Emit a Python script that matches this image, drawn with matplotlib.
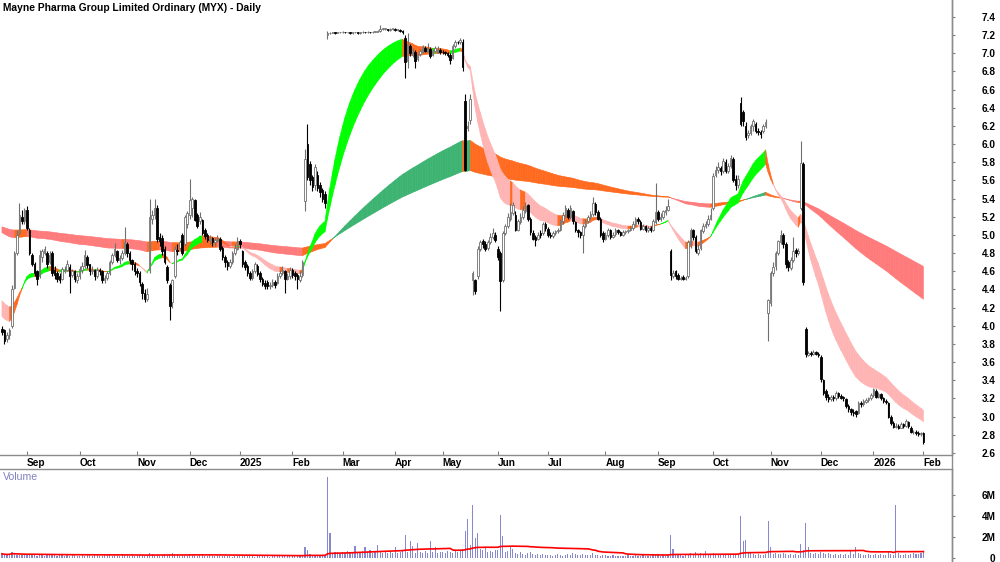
import numpy as np
import pandas as pd
import matplotlib
matplotlib.use("Agg")
import matplotlib.pyplot as plt
from matplotlib.collections import PolyCollection
from matplotlib.lines import Line2D

plt.rcParams['font.family'] = ['Liberation Sans', 'DejaVu Sans']

title = "Mayne Pharma Group Limited Ordinary (MYX) - Daily"

# ---- daily OHLC (AUD), 19 Aug 2024 .. 2 Feb 2026, one row per month ----
open_ = [
 3.97, 3.95, 3.85, 3.90, 4.00, 4.42, 4.80, 5.02, 5.20, 5.15,
 5.28, 5.05, 4.78, 4.68, 4.60, 4.55, 4.76, 4.80, 4.80, 4.70, 4.80, 4.62, 4.58, 4.55, 4.52, 4.60, 4.62, 4.65, 4.56, 4.60, 4.50,
 4.55, 4.62, 4.66, 4.76, 4.68, 4.60, 4.62, 4.55, 4.62, 4.60, 4.50, 4.53, 4.58, 4.70, 4.78, 4.82, 4.72, 4.75, 4.80, 4.90, 4.80, 4.72, 4.68,
 4.60, 4.58, 4.46, 4.36, 4.30, 4.62, 5.18, 5.22, 5.30, 4.98, 4.97, 4.85, 4.65, 4.45, 4.26, 4.55, 4.84, 4.86, 5.00, 4.90, 5.12,
 5.22, 5.30, 5.38, 5.22, 5.15, 5.16, 5.05, 5.00, 4.94, 4.97, 4.92, 4.94, 4.96, 4.86, 4.76, 4.70, 4.66, 4.70, 4.80, 4.85,
 4.93, 4.82, 4.70, 4.66, 4.58, 4.53, 4.60, 4.66, 4.58, 4.52, 4.47, 4.48, 4.44, 4.45, 4.48, 4.47, 4.55, 4.58, 4.60, 4.52, 4.55,
 4.62, 4.58, 4.56, 4.50, 4.56, 5.37, 6.00, 5.78, 5.64, 5.55, 5.66, 5.55, 5.50, 5.45, 7.20, 7.22, 7.22, 7.23, 7.22, 7.23,
 7.23, 7.24, 7.23, 7.23, 7.22, 7.23, 7.23, 7.22, 7.23, 7.24, 7.23, 7.24, 7.23, 7.24, 7.24, 7.25, 7.27, 7.27, 7.27, 7.26, 7.27,
 7.27, 7.26, 7.26, 7.25, 7.17, 6.92, 7.08, 6.98, 7.02, 6.94, 6.99, 7.01, 7.06, 7.02, 7.05, 6.98, 7.03, 7.00, 7.04,
 7.02, 7.01, 7.00, 6.98, 6.95, 7.08, 7.13, 7.12, 7.12, 6.48, 6.18, 6.27, 4.50, 4.50, 4.55, 4.85, 4.93, 4.90, 4.86, 4.92, 4.98, 5.00,
 4.85, 4.80, 4.50, 5.02, 5.10, 5.18, 5.24, 5.22, 5.06, 5.14, 5.20, 5.26, 5.33, 5.18, 5.02, 4.98, 4.96, 5.02, 5.02, 5.12,
 5.07, 5.00, 4.99, 5.02, 5.04, 5.06, 5.15, 5.22, 5.28, 5.20, 5.26, 5.14, 5.05, 5.03, 5.00, 5.10, 5.15, 5.20, 5.23, 5.34, 5.25, 5.18, 5.02,
 4.96, 5.00, 5.05, 4.98, 5.01, 5.06, 5.03, 5.00, 5.03, 5.04, 5.05, 5.08, 5.12, 5.18, 5.14, 5.07, 5.10, 5.05, 5.08, 5.06, 5.14,
 5.25, 5.18, 5.20, 5.25, 5.28, 4.82, 4.55, 4.60, 4.56, 4.52, 4.54, 4.52, 4.55, 4.90, 5.05, 4.98, 4.80, 4.86, 5.04, 5.10, 5.12, 5.18,
 5.30, 5.66, 5.72, 5.74, 5.70, 5.80, 5.70, 5.76, 5.84, 5.62, 5.55, 6.45, 6.35, 6.20, 6.10, 6.12, 6.20, 6.22, 6.15, 6.13, 6.14, 6.20, 4.14,
 4.25, 4.58, 4.66, 4.80, 4.92, 5.00, 4.90, 4.70, 4.64, 4.72, 4.84, 4.80, 5.30, 5.78, 3.97, 3.68, 3.70, 3.69, 3.71, 3.69,
 3.66, 3.40, 3.28, 3.22, 3.19, 3.22, 3.20, 3.26, 3.23, 3.22, 3.19, 3.12, 3.08, 3.05, 3.06, 3.04, 3.15, 3.14, 3.16, 3.18, 3.20,
 3.24, 3.28, 3.22, 3.25, 3.20, 3.17, 3.15, 3.00, 2.93, 2.89, 2.90, 2.88, 2.92, 2.90, 2.94, 2.88, 2.83, 2.83, 2.82, 2.81,
 2.82,
]
high = [
 4.00, 3.97, 3.93, 3.98, 4.45, 4.82, 5.05, 5.35, 5.28, 5.30,
 5.32, 5.08, 4.80, 4.70, 4.62, 4.83, 4.85, 4.88, 4.82, 4.82, 4.82, 4.66, 4.60, 4.58, 4.65, 4.66, 4.72, 4.68, 4.63, 4.62, 4.58,
 4.66, 4.70, 4.83, 4.78, 4.68, 4.66, 4.63, 4.65, 4.64, 4.61, 4.56, 4.60, 4.72, 4.80, 4.91, 4.84, 4.78, 4.83, 5.09, 4.92, 4.82, 4.74, 4.70,
 4.64, 4.60, 4.48, 4.40, 4.42, 5.40, 5.28, 5.40, 5.33, 5.02, 5.00, 4.88, 4.67, 4.47, 4.52, 4.88, 4.90, 4.95, 5.02, 5.22, 5.26,
 5.62, 5.42, 5.40, 5.24, 5.25, 5.18, 5.08, 5.02, 5.00, 4.98, 4.97, 5.00, 4.98, 4.88, 4.78, 4.72, 4.74, 4.82, 4.90, 4.98,
 4.96, 4.84, 4.72, 4.68, 4.60, 4.63, 4.70, 4.68, 4.60, 4.54, 4.50, 4.50, 4.48, 4.52, 4.50, 4.58, 4.62, 4.66, 4.62, 4.58, 4.65,
 4.64, 4.60, 4.58, 4.60, 4.72, 5.95, 6.22, 5.82, 5.66, 5.78, 5.70, 5.58, 5.52, 5.48, 7.25, 7.23, 7.24, 7.23, 7.24, 7.24,
 7.25, 7.24, 7.24, 7.23, 7.24, 7.24, 7.23, 7.24, 7.25, 7.24, 7.25, 7.24, 7.25, 7.25, 7.26, 7.31, 7.28, 7.28, 7.27, 7.28, 7.28,
 7.28, 7.27, 7.27, 7.26, 7.20, 7.22, 7.10, 7.06, 7.04, 7.00, 7.05, 7.09, 7.08, 7.11, 7.07, 7.05, 7.08, 7.08, 7.06,
 7.04, 7.03, 7.02, 7.00, 7.10, 7.15, 7.14, 7.17, 7.16, 6.55, 6.25, 6.55, 4.60, 4.52, 4.88, 4.95, 4.96, 4.93, 4.95, 5.02, 5.08, 5.03,
 4.88, 4.82, 5.04, 5.12, 5.24, 5.35, 5.36, 5.26, 5.18, 5.24, 5.32, 5.36, 5.34, 5.20, 5.05, 5.00, 5.03, 5.05, 5.14, 5.14,
 5.09, 5.03, 5.04, 5.06, 5.08, 5.18, 5.25, 5.33, 5.30, 5.33, 5.27, 5.15, 5.07, 5.04, 5.12, 5.18, 5.22, 5.26, 5.42, 5.36, 5.27, 5.20, 5.04,
 5.03, 5.08, 5.07, 5.03, 5.08, 5.07, 5.04, 5.05, 5.06, 5.07, 5.10, 5.15, 5.20, 5.20, 5.16, 5.12, 5.11, 5.10, 5.10, 5.18, 5.57,
 5.28, 5.24, 5.28, 5.32, 5.40, 4.85, 4.62, 4.62, 4.58, 4.55, 4.56, 4.55, 4.94, 5.08, 5.07, 5.00, 4.90, 5.07, 5.13, 5.15, 5.22, 5.30,
 5.68, 5.76, 5.80, 5.76, 5.85, 5.84, 5.79, 5.88, 5.86, 5.66, 5.66, 6.52, 6.38, 6.24, 6.16, 6.22, 6.28, 6.24, 6.18, 6.16, 6.22, 6.28, 4.30,
 4.60, 4.70, 4.82, 4.95, 5.05, 5.02, 4.92, 4.72, 4.76, 4.98, 4.86, 4.86, 6.03, 5.80, 3.99, 3.72, 3.72, 3.73, 3.72, 3.71,
 3.68, 3.42, 3.30, 3.25, 3.24, 3.24, 3.28, 3.27, 3.25, 3.23, 3.20, 3.14, 3.10, 3.08, 3.07, 3.17, 3.17, 3.19, 3.20, 3.22, 3.26,
 3.32, 3.30, 3.27, 3.26, 3.22, 3.19, 3.16, 3.02, 2.95, 2.93, 2.92, 2.94, 2.93, 2.97, 2.95, 2.90, 2.85, 2.85, 2.84, 2.83,
 2.83,
]
low = [
 3.90, 3.80, 3.82, 3.85, 3.98, 4.40, 4.78, 5.00, 5.12, 5.12,
 5.05, 4.78, 4.66, 4.55, 4.45, 4.53, 4.70, 4.78, 4.64, 4.68, 4.55, 4.52, 4.48, 4.47, 4.50, 4.58, 4.60, 4.36, 4.54, 4.48, 4.47,
 4.52, 4.58, 4.64, 4.64, 4.56, 4.57, 4.50, 4.53, 4.56, 4.47, 4.47, 4.50, 4.56, 4.68, 4.76, 4.70, 4.68, 4.72, 4.78, 4.76, 4.68, 4.62, 4.56,
 4.54, 4.44, 4.30, 4.26, 4.27, 4.58, 5.12, 5.18, 4.92, 4.88, 4.78, 4.68, 4.47, 4.06, 4.20, 4.53, 4.78, 4.83, 4.78, 4.88, 5.08,
 5.18, 5.20, 5.15, 5.08, 5.12, 5.00, 4.96, 4.92, 4.90, 4.88, 4.88, 4.92, 4.82, 4.72, 4.65, 4.62, 4.64, 4.68, 4.78, 4.84,
 4.86, 4.65, 4.62, 4.55, 4.50, 4.51, 4.58, 4.55, 4.48, 4.44, 4.41, 4.40, 4.40, 4.43, 4.42, 4.46, 4.53, 4.56, 4.36, 4.50, 4.52,
 4.53, 4.50, 4.40, 4.48, 4.54, 5.26, 5.60, 5.55, 5.48, 5.50, 5.48, 5.42, 5.36, 5.30, 7.16, 7.21, 7.22, 7.21, 7.22, 7.22,
 7.22, 7.22, 7.22, 7.21, 7.21, 7.22, 7.21, 7.21, 7.22, 7.22, 7.22, 7.22, 7.22, 7.23, 7.23, 7.24, 7.26, 7.26, 7.25, 7.25, 7.26,
 7.25, 7.25, 7.24, 7.21, 6.73, 6.84, 6.97, 6.96, 6.84, 6.92, 6.97, 7.00, 7.01, 7.02, 6.95, 6.97, 7.02, 7.00, 6.99,
 6.99, 6.98, 6.96, 6.88, 6.94, 7.06, 7.10, 7.10, 6.80, 5.70, 6.15, 6.22, 4.34, 4.35, 4.52, 4.82, 4.86, 4.82, 4.84, 4.90, 4.96, 4.92,
 4.72, 4.16, 4.48, 5.00, 5.08, 5.15, 5.22, 5.04, 5.04, 5.12, 5.18, 5.24, 5.15, 5.00, 4.94, 4.88, 4.94, 4.97, 5.00, 5.04,
 4.98, 4.97, 4.97, 5.00, 5.02, 5.04, 5.12, 5.20, 5.18, 5.18, 5.12, 5.03, 4.98, 4.97, 4.80, 5.08, 5.13, 5.18, 5.21, 5.22, 5.16, 4.98, 4.92,
 4.95, 4.98, 4.96, 4.97, 4.99, 5.01, 4.99, 4.99, 5.01, 5.02, 5.04, 5.06, 5.10, 5.12, 5.05, 5.05, 5.03, 5.03, 5.03, 5.04, 5.12,
 5.15, 5.15, 5.18, 5.22, 5.26, 4.50, 4.53, 4.52, 4.50, 4.50, 4.50, 4.50, 4.53, 4.86, 4.95, 4.80, 4.78, 4.84, 5.02, 5.08, 5.10, 5.16,
 5.27, 5.64, 5.68, 5.66, 5.68, 5.68, 5.68, 5.74, 5.58, 5.50, 5.52, 6.20, 6.20, 6.05, 6.07, 6.10, 6.14, 6.12, 6.10, 6.07, 6.12, 6.18, 3.83,
 4.22, 4.55, 4.62, 4.78, 4.90, 4.86, 4.64, 4.60, 4.62, 4.70, 4.76, 4.78, 5.28, 4.45, 3.66, 3.67, 3.67, 3.68, 3.68, 3.66,
 3.38, 3.24, 3.18, 3.16, 3.17, 3.17, 3.18, 3.20, 3.19, 3.17, 3.10, 3.05, 3.02, 3.01, 3.00, 3.03, 3.11, 3.12, 3.15, 3.16, 3.18,
 3.22, 3.20, 3.20, 3.18, 3.15, 3.14, 2.98, 2.91, 2.87, 2.87, 2.86, 2.87, 2.88, 2.89, 2.88, 2.82, 2.81, 2.80, 2.79, 2.79,
 2.70,
]
close = [
 3.93, 3.83, 3.90, 3.95, 4.40, 4.80, 5.00, 5.22, 5.15, 5.27,
 5.08, 4.80, 4.68, 4.58, 4.52, 4.78, 4.82, 4.85, 4.68, 4.78, 4.58, 4.56, 4.52, 4.50, 4.63, 4.62, 4.68, 4.55, 4.60, 4.52, 4.55,
 4.63, 4.66, 4.78, 4.67, 4.60, 4.62, 4.55, 4.62, 4.60, 4.50, 4.53, 4.58, 4.70, 4.78, 4.85, 4.72, 4.75, 4.80, 4.92, 4.80, 4.72, 4.68, 4.60,
 4.58, 4.48, 4.36, 4.30, 4.35, 5.20, 5.22, 5.30, 4.96, 4.93, 4.82, 4.70, 4.50, 4.22, 4.50, 4.85, 4.82, 4.92, 4.80, 5.20, 5.24,
 5.38, 5.40, 5.17, 5.10, 5.20, 5.02, 4.99, 4.95, 4.96, 4.92, 4.94, 4.97, 4.85, 4.76, 4.70, 4.66, 4.70, 4.80, 4.86, 4.93,
 4.90, 4.68, 4.65, 4.58, 4.53, 4.60, 4.68, 4.57, 4.52, 4.46, 4.44, 4.44, 4.45, 4.48, 4.45, 4.55, 4.58, 4.62, 4.52, 4.55, 4.62,
 4.56, 4.55, 4.52, 4.55, 4.70, 5.84, 5.64, 5.60, 5.53, 5.75, 5.52, 5.47, 5.40, 5.35, 7.22, 7.22, 7.23, 7.22, 7.23, 7.23,
 7.24, 7.23, 7.23, 7.22, 7.23, 7.23, 7.22, 7.23, 7.24, 7.23, 7.24, 7.23, 7.24, 7.24, 7.25, 7.27, 7.27, 7.27, 7.26, 7.27, 7.27,
 7.26, 7.26, 7.25, 7.23, 6.90, 7.10, 7.00, 7.02, 6.92, 6.98, 7.03, 7.07, 7.03, 7.06, 6.97, 7.03, 7.06, 7.05, 7.02,
 7.01, 7.00, 6.98, 6.93, 7.08, 7.13, 7.12, 7.15, 6.85, 5.72, 6.20, 6.50, 4.58, 4.38, 4.85, 4.92, 4.90, 4.85, 4.92, 4.98, 5.02, 4.95,
 4.76, 4.49, 5.02, 5.10, 5.20, 5.25, 5.33, 5.06, 5.15, 5.20, 5.28, 5.32, 5.18, 5.03, 4.96, 4.95, 5.00, 5.00, 5.12, 5.08,
 5.00, 4.99, 5.02, 5.04, 5.06, 5.15, 5.22, 5.30, 5.20, 5.30, 5.15, 5.06, 5.03, 5.00, 5.10, 5.15, 5.20, 5.23, 5.35, 5.25, 5.18, 5.00, 4.96,
 5.00, 5.05, 4.98, 5.00, 5.06, 5.03, 5.00, 5.03, 5.04, 5.05, 5.08, 5.12, 5.18, 5.15, 5.07, 5.10, 5.05, 5.08, 5.05, 5.15, 5.25,
 5.18, 5.20, 5.26, 5.28, 5.32, 4.56, 4.58, 4.55, 4.52, 4.53, 4.52, 4.53, 4.92, 5.05, 4.98, 4.82, 4.85, 5.05, 5.10, 5.12, 5.18, 5.22,
 5.65, 5.72, 5.75, 5.70, 5.82, 5.70, 5.76, 5.85, 5.60, 5.55, 5.62, 6.22, 6.25, 6.08, 6.12, 6.20, 6.25, 6.15, 6.13, 6.11, 6.20, 6.24, 4.28,
 4.58, 4.65, 4.80, 4.93, 5.00, 4.90, 4.68, 4.65, 4.72, 4.82, 4.80, 4.82, 5.79, 4.48, 3.69, 3.70, 3.69, 3.71, 3.69, 3.68,
 3.42, 3.26, 3.22, 3.19, 3.22, 3.20, 3.26, 3.23, 3.21, 3.20, 3.12, 3.08, 3.05, 3.04, 3.03, 3.15, 3.14, 3.17, 3.18, 3.20, 3.24,
 3.30, 3.22, 3.25, 3.20, 3.17, 3.16, 3.00, 2.93, 2.89, 2.90, 2.88, 2.92, 2.90, 2.95, 2.90, 2.83, 2.83, 2.82, 2.81, 2.82,
 2.72,
]
# daily volume in units of 100,000 shares
volume_100k = [
 4, 3, 3, 4, 6, 4, 3, 3, 3, 3,
 3, 4, 3, 3, 2, 3, 3, 2, 3, 3, 4, 3, 2, 3, 3, 2, 3, 2, 3, 3, 2,
 2, 3, 2, 3, 3, 2, 3, 3, 2, 2, 3, 3, 3, 2, 3, 3, 2, 4, 3, 3, 2, 3, 2,
 3, 3, 3, 2, 3, 5, 4, 3, 3, 2, 3, 4, 3, 4, 5, 3, 3, 2, 3, 3, 3,
 4, 3, 3, 2, 3, 3, 2, 2, 3, 2, 2, 3, 2, 2, 2, 2, 2, 1, 2, 2,
 2, 2, 2, 2, 2, 2, 1, 2, 2, 2, 2, 2, 1, 2, 2, 2, 2, 2, 2, 2, 2,
 2, 2, 2, 2, 3, 10, 8, 4, 3, 3, 3, 2, 3, 2, 77, 24, 5, 6, 6, 5,
 6, 5, 7, 6, 5, 11, 6, 5, 7, 10, 6, 8, 5, 6, 12, 6, 5, 6, 5, 7, 5,
 10, 5, 6, 7, 22, 6, 16, 11, 5, 14, 6, 5, 7, 5, 16, 6, 10, 5, 6,
 6, 5, 7, 6, 5, 8, 6, 7, 9, 26, 37, 12, 50, 19, 24, 9, 8, 10, 6, 7, 6, 8,
 8, 41, 21, 6, 7, 10, 9, 5, 4, 6, 4, 3, 5, 6, 4, 3, 4, 3, 4, 3,
 3, 3, 2, 3, 4, 3, 2, 3, 4, 3, 5, 4, 3, 3, 4, 3, 3, 3, 5, 3, 3, 2, 3,
 3, 2, 2, 3, 2, 2, 2, 2, 2, 3, 2, 2, 3, 2, 2, 3, 2, 2, 2, 3, 4,
 3, 2, 3, 2, 3, 22, 9, 4, 3, 3, 2, 3, 4, 5, 3, 6, 3, 5, 4, 7, 3, 3,
 5, 3, 4, 3, 3, 4, 3, 4, 3, 3, 4, 40, 16, 17, 5, 5, 4, 3, 4, 3, 3, 4, 35,
 10, 4, 5, 4, 4, 5, 4, 3, 4, 3, 4, 3, 13, 8, 33, 10, 5, 4, 5, 4,
 6, 5, 4, 5, 4, 3, 4, 3, 4, 3, 4, 3, 8, 4, 10, 5, 4, 3, 3, 4, 3,
 3, 4, 3, 4, 3, 3, 6, 4, 3, 50, 5, 3, 3, 4, 3, 4, 5, 4, 4, 5,
 6,
]
# ribbon settings: EMA periods and their starting levels
short_periods = (20, 30)
short_seeds = (4.12, 4.30)
long_periods = (150, 250)
long_seeds = (5.04, 5.10)
vol_ma_period = 50

price_ticks = [2.6, 2.8, 3.0, 3.2, 3.4, 3.6, 3.8, 4.0, 4.2, 4.4, 4.6, 4.8, 5.0,
               5.2, 5.4, 5.6, 5.8, 6.0, 6.2, 6.4, 6.6, 6.8, 7.0, 7.2, 7.4]
vol_ticks = [0, 2e6, 4e6, 6e6]
vol_tick_labels = ["0", "2M", "4M", "6M"]

holidays = pd.to_datetime(['2024-12-25', '2024-12-26', '2025-01-01', '2025-01-27',
                           '2025-04-18', '2025-04-21', '2025-04-25', '2025-06-09',
                           '2025-12-25', '2025-12-26', '2026-01-01', '2026-01-26'])
days = pd.bdate_range('2024-08-19', '2026-02-02', freq='C', holidays=holidays)

O = np.array(open_); H = np.array(high); L = np.array(low); C = np.array(close)
V = np.array(volume_100k, dtype=float) * 1e5
n = min(len(O), len(H), len(L), len(C), len(V), len(days))
O, H, L, C, V, days = O[:n], H[:n], L[:n], C[:n], V[:n], days[:n]
x = np.arange(n)


def ema(values, period, seed):
    a = 2.0 / (period + 1)
    out = np.empty(len(values))
    prev = seed
    for k, v in enumerate(values):
        prev = prev + a * (v - prev)
        out[k] = prev
    return out


def ribbon(ax, fast, slow, colors):
    rising = np.r_[True, np.diff(fast) > 0]
    state = np.where((fast > slow) & rising, 0,
                     np.where((fast < slow) & ~rising, 2, 1))
    verts, fcs = [], []
    for k in range(len(fast) - 1):
        verts.append([(k, fast[k]), (k + 1, fast[k + 1]), (k + 1, slow[k + 1]), (k, slow[k])])
        fcs.append(colors[state[k + 1]])
    pc = PolyCollection(verts, facecolors=fcs, edgecolors=fcs, linewidths=0.4, zorder=1)
    ax.add_collection(pc)


fig = plt.figure(figsize=(10, 5.62), dpi=100)
ax = fig.add_axes([0, 0.1904, 0.952, 0.8096])
axv = fig.add_axes([0, 0.0018, 0.952, 0.1637])

xlim = (-0.78, 379.4)

# ribbons
lf = ema(C, long_periods[0], long_seeds[0]); ls = ema(C, long_periods[1], long_seeds[1])
sf = ema(C, short_periods[0], short_seeds[0]); ss = ema(C, short_periods[1], short_seeds[1])
ribbon(ax, lf, ls, ['#3cb371', '#ff6a1f', '#ff7a7a'])
ribbon(ax, sf, ss, ['#00ff00', '#ff6a1f', '#ffb4b4'])

# candles
hi = np.maximum.reduce([H, O, C]); lo = np.minimum.reduce([L, O, C])
up = C >= O
ax.vlines(x[up], lo[up], hi[up], color='#707070', lw=0.8, zorder=3)
ax.vlines(x[~up], lo[~up], hi[~up], color='black', lw=0.8, zorder=3)
ax.bar(x[up], np.maximum(C[up] - O[up], 0.004), bottom=O[up], width=0.62,
       facecolor='white', edgecolor='#707070', linewidth=0.6, zorder=4)
ax.bar(x[~up], np.maximum(O[~up] - C[~up], 0.004), bottom=C[~up], width=0.62,
       facecolor='black', edgecolor='black', linewidth=0.6, zorder=4)

ax.set_xlim(*xlim)
ax.set_ylim(2.578, 7.587)

# month ticks
month_start = [i for i in range(1, n) if days[i].month != days[i - 1].month]
month_lab = [str(days[i].year) if days[i].month == 1 else days[i].strftime('%b') for i in month_start]
ax.set_xticks(month_start)
ax.set_xticklabels(month_lab, fontsize=7.2, fontweight='bold')
ax.tick_params(axis='x', length=3, direction='in', pad=2, color='#808080')
for t in ax.get_xticklabels():
    t.set_horizontalalignment('left')

ax.yaxis.tick_right()
ax.set_yticks(price_ticks)
ax.set_yticklabels([f"{v:.1f}" for v in price_ticks], fontsize=7.2, fontweight='bold')
ax.tick_params(axis='y', length=2.5, pad=29.0, color='#808080')
for t in ax.get_yticklabels():
    t.set_horizontalalignment('right')

for s in ['top', 'left']:
    ax.spines[s].set_visible(False)
for s in ['bottom', 'right']:
    ax.spines[s].set_color('#8c8c8c')
    ax.spines[s].set_linewidth(1.0)

ax.text(3 / 952, 1 - 3 / 455, title, transform=ax.transAxes, ha='left', va='top',
        fontsize=7.4, fontweight='bold', color='black')

# volume panel
axv.bar(x, V, width=0.45, color='#8888d0', zorder=2)
vma = pd.Series(V).rolling(vol_ma_period, min_periods=1).mean().values
axv.plot(x, vma, color='#ff0000', lw=1.2, zorder=3)
axv.set_xlim(*xlim)
axv.set_ylim(-0.29e6, 8.48e6)
axv.set_xticks([])
axv.yaxis.tick_right()
axv.set_yticks(vol_ticks)
axv.set_yticklabels(vol_tick_labels, fontsize=7.2, fontweight='bold')
axv.tick_params(axis='y', length=2.5, pad=29.0, color='#808080')
for t in axv.get_yticklabels():
    t.set_horizontalalignment('right')
for s in ['bottom', 'left']:
    axv.spines[s].set_visible(False)
for s in ['top', 'right']:
    axv.spines[s].set_color('#8c8c8c')
    axv.spines[s].set_linewidth(1.0)
axv.text(3 / 952, 1 - 3 / 92, 'Volume', transform=axv.transAxes, ha='left', va='top',
         fontsize=7.6, color='#8080c0')

# continuous divider along the right edge of both panels
fig.add_artist(Line2D([0.952, 0.952], [0, 1], transform=fig.transFigure,
                      color='#8c8c8c', lw=1.0))

fig.savefig('out.png', dpi=100)
